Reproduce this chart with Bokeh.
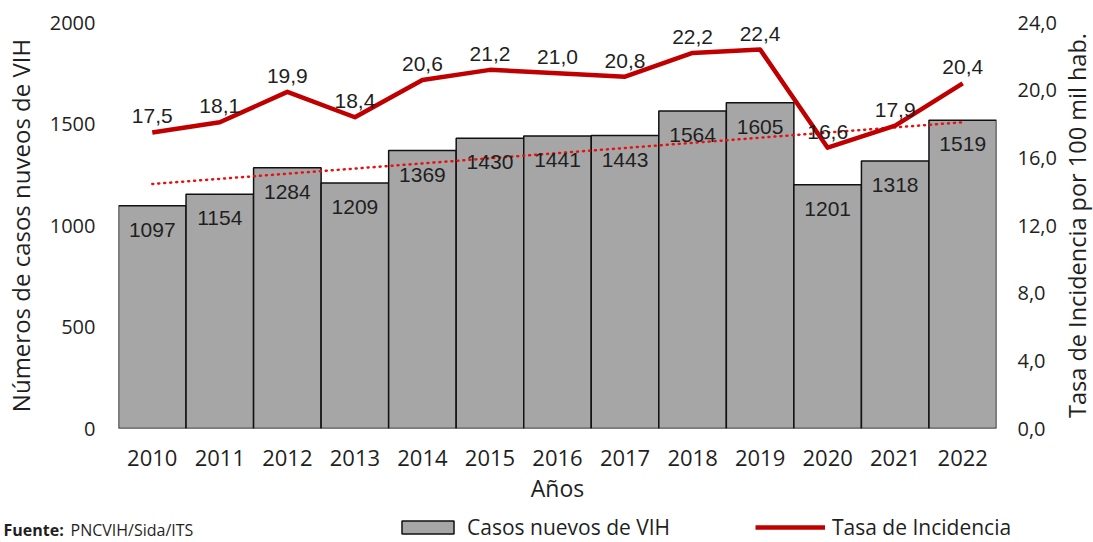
import math
import numpy as np
from bokeh.plotting import figure
from bokeh.layouts import column, row
from bokeh.models import (Range1d, LinearAxis, FixedTicker, CustomJSTickFormatter,
                          ColumnDataSource, Legend, LegendItem, Label, BoxAnnotation)
from bokeh.core.properties import value
from bokeh.embed import file_html
from bokeh.resources import INLINE

years = ["2010", "2011", "2012", "2013", "2014", "2015", "2016",
         "2017", "2018", "2019", "2020", "2021", "2022"]
casos = [1097, 1154, 1284, 1209, 1369, 1430, 1441, 1443, 1564, 1605, 1201, 1318, 1519]
tasa = [17.5, 18.1, 19.9, 18.4, 20.6, 21.2, 21.0, 20.8, 22.2, 22.4, 16.6, 17.9, 20.4]
left_ticks = [0, 500, 1000, 1500, 2000]
right_ticks = [0, 4, 8, 12, 16, 20, 24]

# linear trend line of the bar series
idx = np.arange(len(casos))
slope, intercept = np.polyfit(idx, casos, 1)
trend = list(slope * idx + intercept)

src = ColumnDataSource(dict(
    x=years, casos=casos, tasa=tasa, trend=trend,
    casos_lbl=[str(v) for v in casos],
    tasa_lbl=[f"{v:.1f}".replace(".", ",") for v in tasa],
))

TXT = "#1f1f1f"
AX_FONT = "Open Sans"
LBL_FONT = "Liberation Sans"
BAR_FILL = "#A6A6A6"
BAR_LINE = "#111111"
RED = "#C00000"

# ---------------- main chart ----------------
p = figure(x_range=years, y_range=Range1d(0, 2000), width=1059, height=512,
           output_backend="svg", toolbar_location=None,
           min_border_left=118, min_border_right=62, min_border_top=22,
           min_border_bottom=84)
p.extra_y_ranges = {"rate": Range1d(0, 24)}
p.xgrid.grid_line_color = None
p.ygrid.grid_line_color = None
p.outline_line_color = None

p.vbar(x="x", top="casos", width=1.0, source=src,
       fill_color=BAR_FILL, line_color=BAR_LINE, line_width=1.5)
p.line(x="x", y="trend", source=src, line_color="#E81010", line_width=2.5,
       line_dash="1 5", line_cap="round")
p.line(x="x", y="tasa", source=src, y_range_name="rate",
       line_color=RED, line_width=4.5, line_join="round")

p.text(x="x", y="casos", text="casos_lbl", source=src, text_align="center",
       text_baseline="top", y_offset=17, text_font=value(LBL_FONT),
       text_font_size="21px", text_color=TXT)
p.text(x="x", y="tasa", text="tasa_lbl", source=src, y_range_name="rate",
       text_align="center", text_baseline="bottom", y_offset=-9,
       text_font=value(LBL_FONT), text_font_size="21px", text_color=TXT)

def style(ax):
    ax.axis_line_color = None
    ax.major_tick_line_color = None
    ax.minor_tick_line_color = None
    ax.major_tick_out = 0
    ax.major_tick_in = 0
    ax.minor_tick_out = 0
    ax.minor_tick_in = 0
    ax.major_label_text_font = AX_FONT
    ax.major_label_text_font_size = "20px"
    ax.major_label_text_color = TXT
    ax.axis_label_text_font = AX_FONT
    ax.axis_label_text_font_style = "normal"
    ax.axis_label_text_color = TXT

xa = p.xaxis[0]
style(xa)
xa.major_label_text_font_size = "22px"
xa.major_label_standoff = 21
xa.axis_label = "Años"
xa.axis_label_text_font_size = "23px"
xa.axis_label_standoff = 3

ya = p.yaxis[0]
style(ya)
ya.ticker = FixedTicker(ticks=left_ticks)
ya.major_label_standoff = 23
ya.axis_label = "Números de casos nuveos de VIH"
ya.axis_label_text_font_size = "24px"
ya.axis_label_standoff = 10

yr = LinearAxis(y_range_name="rate", ticker=FixedTicker(ticks=right_ticks),
                formatter=CustomJSTickFormatter(code="return tick.toFixed(1).replace('.', ',');"))
style(yr)
yr.major_label_standoff = 21
p.add_layout(yr, "right")

# ---------------- right title strip (frame aligned with the main chart) ----------------
p3 = figure(width=34, height=512, output_backend="svg", toolbar_location=None,
            x_range=Range1d(0, 1), y_range=Range1d(0, 1),
            x_axis_location=None, y_axis_location=None, min_border=0)
p3.grid.grid_line_color = None
p3.outline_line_color = None
p3.add_layout(Label(x=17, y=203, x_units="screen", y_units="screen",
                    text="Tasa de Incidencia por 100 mil hab.", angle=math.pi / 2,
                    text_align="center", text_baseline="middle",
                    text_font=AX_FONT, text_font_size="23.5px", text_color=TXT))

# ---------------- bottom strip: source + legend ----------------
# legend swatches come from the real series, kept outside this strip's visible
# y range and masked by a white box so only the legend shows
p2 = figure(width=1093, height=30, output_backend="svg", toolbar_location=None,
            x_range=p.x_range, y_range=Range1d(10000, 10001),
            x_axis_location=None, y_axis_location=None, min_border=0)
p2.grid.grid_line_color = None
p2.outline_line_color = None
leg_bar = p2.vbar(x="x", top="casos", width=1.0, source=src, fill_color=BAR_FILL,
                  line_color=BAR_LINE, line_width=1.5)
leg_line = p2.line(x="x", y="tasa", source=src, line_color=RED, line_width=4.5)
p2.add_layout(BoxAnnotation(fill_color="white", fill_alpha=1.0, line_color=None,
                            level="overlay"))

def mk_legend(item, x, gw):
    lg = Legend(items=[item], location=(x, 1), orientation="horizontal",
                padding=0, margin=0, border_line_color=None,
                background_fill_alpha=0, glyph_width=gw, glyph_height=16,
                label_standoff=7, label_text_font=AX_FONT,
                label_text_font_size="21px", label_text_color=TXT)
    lg.level = "overlay"
    return lg

def mk_label(**kw):
    lb = Label(x_units="screen", y_units="screen", text_font=AX_FONT,
               text_font_size="16px", text_color=TXT, text_baseline="alphabetic", **kw)
    lb.level = "overlay"
    return lb

p2.add_layout(mk_legend(LegendItem(label="Casos nuevos de VIH", renderers=[leg_bar]), 395, 65))
p2.add_layout(mk_legend(LegendItem(label="Tasa de Incidencia", renderers=[leg_line]), 755, 70))
p2.add_layout(mk_label(x=3, y=13, text="Fuente:", text_font_style="bold"))
p2.add_layout(mk_label(x=70, y=13, text="PNCVIH/Sida/ITS"))

layout = column(row(p, p3, spacing=0), p2, spacing=0)
open("out.html", "w").write(file_html(layout, INLINE))
